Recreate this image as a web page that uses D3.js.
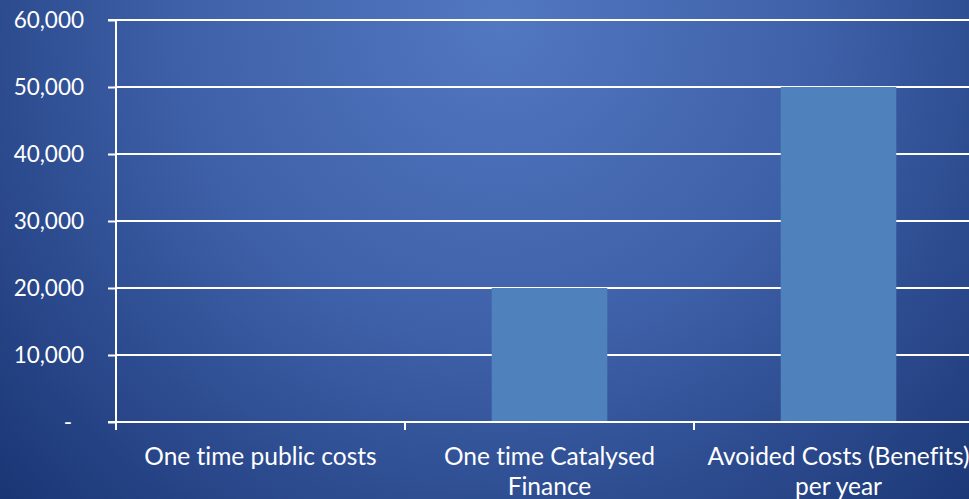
<!DOCTYPE html>
<html>
<head>
<meta charset="utf-8">
<script src="https://cdn.jsdelivr.net/npm/d3@7/dist/d3.min.js"></script>
<style>
  html, body { margin: 0; padding: 0; background: #1e3b7c; }
  svg { display: block; }
  text { font-variant-ligatures: none; font-feature-settings: "liga" 0; }
</style>
</head>
<body>
<svg id="chart" width="969" height="499"></svg>
<script>
// Cost comparison data
const categories = [
  ["One time public costs"],
  ["One time Catalysed", "Finance"],
  ["Avoided Costs (Benefits)", "per year"]
];
const categoryKeys = ["public", "catalysed", "avoided"];
const values = [0, 20000, 50000];
const yTicks = [0, 10000, 20000, 30000, 40000, 50000, 60000];
const yTickLabels = ["-", "10,000", "20,000", "30,000", "40,000", "50,000", "60,000"];

const W = 969, H = 499;
const svg = d3.select("#chart");

// Background: soft radial glow from the top centre
const defs = svg.append("defs");
const grad = defs.append("radialGradient")
  .attr("id", "bg")
  .attr("gradientUnits", "userSpaceOnUse")
  .attr("cx", 500).attr("cy", 20).attr("r", 720)
  .attr("fx", 500).attr("fy", 20);
grad.append("stop").attr("offset", "0%").attr("stop-color", "#5278c1");
grad.append("stop").attr("offset", "45%").attr("stop-color", "#3e60a8");
grad.append("stop").attr("offset", "100%").attr("stop-color", "#173270");
svg.append("rect").attr("width", W).attr("height", H).attr("fill", "url(#bg)");

const x0 = 116, x1 = 983, yTop = 20, yBase = 422;
const x = d3.scaleBand().domain(categoryKeys).range([x0, x1])
  .paddingInner(0.6).paddingOuter(0.3);
const y = d3.scaleLinear().domain([0, 60000]).range([yBase, yTop]);

const font = "Lato, 'Open Sans', sans-serif";

// Horizontal gridlines
svg.append("g").selectAll("line").data(yTicks.slice(1)).join("line")
  .attr("x1", x0).attr("x2", W)
  .attr("y1", d => y(d)).attr("y2", d => y(d))
  .attr("stroke", "#ffffff").attr("stroke-width", 2);

// Bars
svg.append("g").selectAll("rect").data(values).join("rect")
  .attr("x", (d, i) => x(categoryKeys[i]))
  .attr("width", x.bandwidth())
  .attr("y", d => y(d))
  .attr("height", d => yBase - y(d))
  .attr("fill", "#4f81bd");

// Y axis
const yAxis = d3.axisLeft(y).tickValues(yTicks).tickSize(8).tickPadding(24)
  .tickFormat((d, i) => yTickLabels[i]);
const gy = svg.append("g").attr("transform", `translate(${x0},0)`).call(yAxis);
gy.select(".domain").attr("stroke", "#fff").attr("stroke-width", 2).attr("d", `M-8,${yTop}H0V${yBase + 8}`);
gy.selectAll(".tick line").attr("stroke", "#fff").attr("stroke-width", 2);
gy.selectAll(".tick text")
  .attr("fill", "#fff").attr("font-family", font).attr("font-size", 22.5)
  .attr("dx", (d, i) => i === 0 ? -12 : 0);

// X axis baseline and category separators
svg.append("line").attr("x1", x0 - 8).attr("x2", W)
  .attr("y1", yBase).attr("y2", yBase)
  .attr("stroke", "#fff").attr("stroke-width", 2);
const step = x.step();
const bounds = d3.range(categoryKeys.length + 1).map(i => x0 + i * step);
svg.append("g").selectAll("line").data(bounds).join("line")
  .attr("x1", d => d).attr("x2", d => d)
  .attr("y1", yBase).attr("y2", yBase + 8)
  .attr("stroke", "#fff").attr("stroke-width", 2);

// Category labels
const lbl = svg.append("g").selectAll("text").data(categories).join("text")
  .attr("x", (d, i) => x(categoryKeys[i]) + x.bandwidth() / 2)
  .attr("y", 465)
  .attr("text-anchor", "middle")
  .attr("fill", "#fff").attr("font-family", font).attr("font-size", 24.5);
lbl.selectAll("tspan").data(d => d).join("tspan")
  .attr("x", function () { return d3.select(this.parentNode).attr("x"); })
  .attr("dy", (d, i) => i === 0 ? 0 : 30)
  .text(d => d);
</script>
</body>
</html>
